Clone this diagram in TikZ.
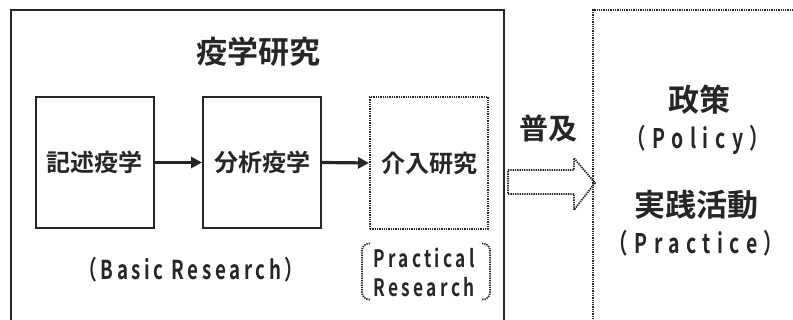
\documentclass[tikz,border=0pt]{standalone}
\usepackage{fontspec}
\setmainfont{Noto Sans CJK JP}[BoldFont={* Bold}]
\newfontfamily\lat{Noto Sans CJK JP Bold}[FakeStretch=0.72,LetterSpace=14]
\newfontfamily\latw{Noto Sans CJK JP Bold}[FakeStretch=0.72,LetterSpace=24]
\usetikzlibrary{arrows.meta}
\definecolor{ink}{gray}{0.15}
\begin{document}
\begin{tikzpicture}[x=1pt,y=-1pt,
  fine dots/.style={dash pattern=on 1.3pt off 1pt},
  solidbox/.style={draw=ink,line width=2pt,minimum width=118pt,minimum height=131pt,inner sep=0pt},
  dotbox/.style={draw=ink,line width=2pt,fine dots,minimum width=118pt,minimum height=132pt,inner sep=0pt},
  boxlabel/.style={font=\bfseries\fontsize{24}{26}\selectfont,text=ink},
  jplabel/.style={font=\bfseries\fontsize{31}{34}\selectfont,text=ink},
  latlabel/.style={font=\lat\fontsize{26}{28}\selectfont,text=ink},
  latwide/.style={font=\latw\fontsize{27}{29}\selectfont,text=ink},
  flow/.style={draw=ink,line width=3.2pt,-{Triangle[length=11pt,width=11pt]}}]
\useasboundingbox (0,0) rectangle (793,320);
\fill[white] (0,0) rectangle (793,320);
% outer boxes
\draw[ink,line width=1.6pt] (11,340) -- (11,10) -- (504,10) -- (504,340);
\draw[ink,line width=2pt,fine dots] (593,340) -- (593,10) -- (810,10);
% title
\node[jplabel] (title) at (258,52) {疫学研究};
% boxes
\node[solidbox] (b1) at (94.5,162.5) {};
\node[boxlabel] at (b1) {記述疫学};
\node[solidbox] (b2) at (262,162.5) {};
\node[boxlabel] at (b2) {分析疫学};
\node[dotbox] (b3) at (429,163) {};
\node[boxlabel] at (b3) {介入研究};
\draw[flow] (b1.east) -- (b2.west);
\draw[flow] (b2.east) -- (b3.west);
% labels below
\node[latlabel] (basic) at (191,270) {（Basic Research）};
\node[latlabel,align=center,font=\lat\fontsize{24}{29}\selectfont,inner sep=0pt] (prac) at (424,272) {Practical\\Research};
\coordinate (brl) at (362,271.5);
\coordinate (brr) at (490,271.5);
\draw[ink,line width=1.8pt,fine dots,rounded corners=7pt]
  ([shift={(8,-28)}]brl) -- ([shift={(0,-28)}]brl) -- ([shift={(0,28)}]brl) -- ([shift={(8,28)}]brl);
\draw[ink,line width=1.8pt,fine dots,rounded corners=7pt]
  ([shift={(-8,-28)}]brr) -- ([shift={(0,-28)}]brr) -- ([shift={(0,28)}]brr) -- ([shift={(-8,28)}]brr);
% dissemination
\node[jplabel,font=\bfseries\fontsize{29}{32}\selectfont] (fukyu) at (548,128) {普及};
\draw[ink,line width=1.8pt,fine dots,line join=miter]
  (508,170) -- (574,170) -- (574,158) -- (595,183) -- (574,210) -- (574,194) -- (508,194) -- cycle;
% right side
\node[jplabel] (policyjp) at (699,100) {政策};
\node[latwide] (policy) at (698,140) {（Policy）};
\node[jplabel] (practjp) at (696,205) {実践活動};
\node[latwide] (practice) at (696,243) {（Practice）};
\end{tikzpicture}
\end{document}
